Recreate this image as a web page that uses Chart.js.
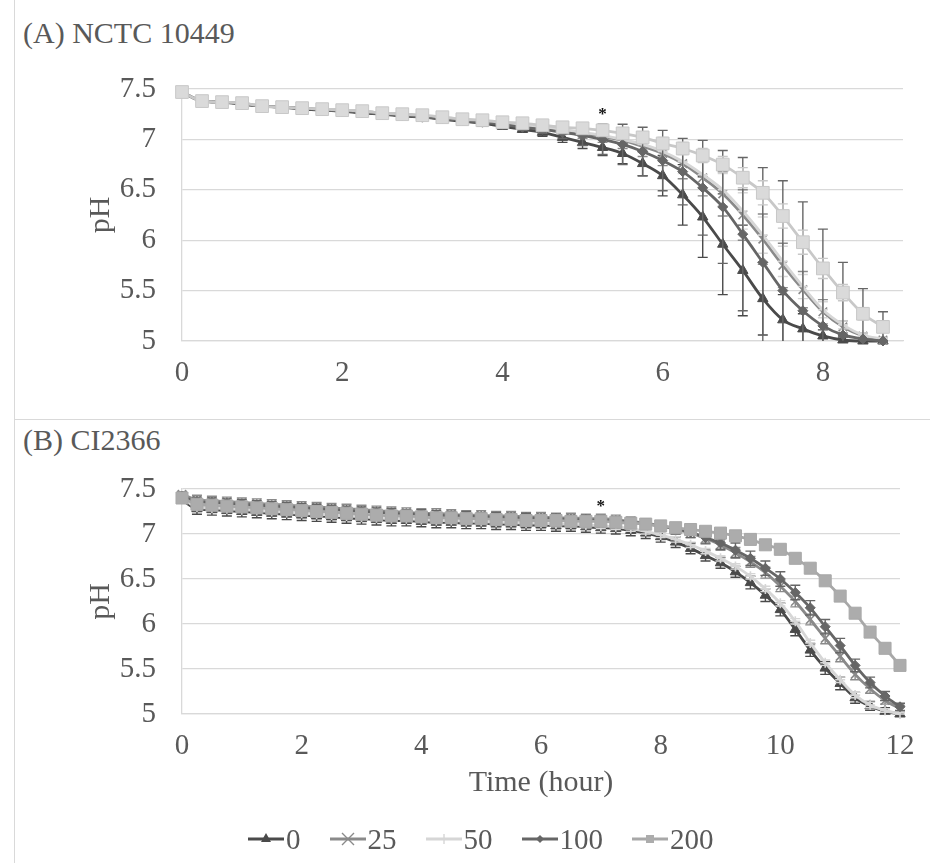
<!DOCTYPE html>
<html lang="en">
<head>
<meta charset="UTF-8">
<title>pH over time - NCTC 10449 and CI2366</title>
<script src="https://cdn.jsdelivr.net/npm/chart.js@4.4.0/dist/chart.umd.min.js"></script>
<style>
  body { margin: 0; width: 930px; height: 863px; background: #fff; position: relative; overflow: hidden;
         font-family: 'Liberation Serif', 'Times New Roman', serif; color: #595959; }
  .frame-left { position: absolute; left: 14px; top: 0; width: 1px; height: 863px; background: #d9d9d9; }
  .divider { position: absolute; left: 14px; top: 419px; width: 916px; height: 1px; background: #d9d9d9; }
  .panel-title { position: absolute; left: 23px; font-size: 30px; line-height: 30px; white-space: nowrap; }
  #wrapA { position: absolute; left: 0; top: 0; }
  #wrapB { position: absolute; left: 0; top: 420px; }
  #legend { position: absolute; left: 248px; top: 824px; display: flex; gap: 29px; font-size: 29px; line-height: 30px; }
  #legend .item { display: flex; align-items: center; gap: 2px; }
  #legend svg { display: block; }
</style>
</head>
<body>
<div class="frame-left"></div>
<div class="divider"></div>
<div class="panel-title" style="top:18px">(A) NCTC 10449</div>
<div class="panel-title" style="top:425px">(B) CI2366</div>
<div id="wrapA"><canvas id="chartA" width="930" height="419"></canvas></div>
<div id="wrapB"><canvas id="chartB" width="930" height="443"></canvas></div>
<div id="legend"></div>

<script>
// ---- data ----
const concLabels = ['0', '25', '50', '100', '200'];

const timesA = [0, 0.25, 0.5, 0.75, 1, 1.25, 1.5, 1.75, 2, 2.25, 2.5, 2.75, 3, 3.25, 3.5, 3.75, 4, 4.25,
  4.5, 4.75, 5, 5.25, 5.5, 5.75, 6, 6.25, 6.5, 6.75, 7, 7.25, 7.5, 7.75, 8, 8.25, 8.5, 8.75];

const pHA0   = [7.47, 7.38, 7.37, 7.35, 7.33, 7.32, 7.30, 7.29, 7.28, 7.26, 7.25, 7.23, 7.22, 7.20, 7.18, 7.16, 7.13, 7.10,
  7.07, 7.02, 6.97, 6.92, 6.86, 6.76, 6.64, 6.45, 6.23, 5.96, 5.70, 5.42, 5.21, 5.12, 5.05, 5.01, 5.00, 5.00];
const pHA25  = [7.47, 7.38, 7.37, 7.36, 7.33, 7.32, 7.31, 7.30, 7.29, 7.28, 7.26, 7.25, 7.23, 7.21, 7.19, 7.18, 7.16, 7.14,
  7.11, 7.09, 7.06, 7.03, 6.99, 6.93, 6.86, 6.76, 6.62, 6.46, 6.25, 6.01, 5.75, 5.51, 5.29, 5.14, 5.05, 5.01];
const pHA50  = [7.47, 7.38, 7.37, 7.36, 7.33, 7.32, 7.31, 7.30, 7.29, 7.28, 7.26, 7.25, 7.23, 7.22, 7.20, 7.18, 7.16, 7.14,
  7.12, 7.10, 7.07, 7.04, 7.00, 6.95, 6.88, 6.78, 6.65, 6.50, 6.29, 6.05, 5.79, 5.54, 5.31, 5.16, 5.06, 5.02];
const pHA100 = [7.47, 7.38, 7.37, 7.35, 7.33, 7.32, 7.31, 7.29, 7.28, 7.27, 7.25, 7.24, 7.22, 7.21, 7.19, 7.17, 7.15, 7.12,
  7.10, 7.07, 7.04, 7.00, 6.95, 6.88, 6.79, 6.68, 6.52, 6.33, 6.06, 5.78, 5.50, 5.30, 5.15, 5.06, 5.02, 5.00];
const pHA200 = [7.47, 7.38, 7.37, 7.36, 7.33, 7.32, 7.31, 7.30, 7.29, 7.28, 7.26, 7.25, 7.24, 7.22, 7.20, 7.19, 7.17, 7.16,
  7.14, 7.12, 7.11, 7.09, 7.06, 7.02, 6.96, 6.91, 6.84, 6.75, 6.62, 6.47, 6.24, 5.98, 5.72, 5.48, 5.27, 5.14];

const errA0   = [0.02, 0.04, 0.03, 0.03, 0.03, 0.03, 0.03, 0.03, 0.03, 0.03, 0.03, 0.03, 0.03, 0.03, 0.03, 0.03, 0.03, 0.03,
  0.04, 0.05, 0.06, 0.08, 0.10, 0.12, 0.20, 0.30, 0.40, 0.50, 0.45, 0.36, 0.25, 0.15, 0.06, 0.03, 0.02, 0.01];
const errA25  = [0.02, 0.04, 0.03, 0.03, 0.03, 0.03, 0.03, 0.03, 0.03, 0.03, 0.03, 0.03, 0.03, 0.03, 0.03, 0.03, 0.03, 0.03,
  0.03, 0.04, 0.05, 0.06, 0.08, 0.10, 0.12, 0.15, 0.18, 0.22, 0.25, 0.25, 0.22, 0.18, 0.12, 0.06, 0.03, 0.02];
const errA50  = [0.02, 0.03, 0.03, 0.03, 0.03, 0.03, 0.03, 0.03, 0.03, 0.03, 0.03, 0.03, 0.03, 0.03, 0.03, 0.03, 0.03, 0.03,
  0.03, 0.03, 0.04, 0.05, 0.06, 0.08, 0.10, 0.12, 0.14, 0.16, 0.18, 0.18, 0.15, 0.12, 0.08, 0.04, 0.02, 0.01];
const errA100 = [0.02, 0.04, 0.03, 0.03, 0.03, 0.03, 0.03, 0.03, 0.03, 0.03, 0.03, 0.03, 0.03, 0.03, 0.03, 0.03, 0.03, 0.03,
  0.04, 0.06, 0.10, 0.15, 0.20, 0.24, 0.30, 0.33, 0.47, 0.56, 0.76, 0.94, 1.09, 1.08, 0.96, 0.72, 0.50, 0.29];
const errA200 = [0.02, 0.03, 0.03, 0.03, 0.03, 0.03, 0.03, 0.03, 0.03, 0.03, 0.03, 0.03, 0.03, 0.03, 0.03, 0.03, 0.03, 0.03,
  0.03, 0.03, 0.04, 0.04, 0.05, 0.05, 0.06, 0.06, 0.07, 0.08, 0.10, 0.12, 0.12, 0.12, 0.10, 0.08, 0.06, 0.04];

const timesB = [0, 0.25, 0.5, 0.75, 1, 1.25, 1.5, 1.75, 2, 2.25, 2.5, 2.75, 3, 3.25, 3.5, 3.75, 4, 4.25, 4.5, 4.75,
  5, 5.25, 5.5, 5.75, 6, 6.25, 6.5, 6.75, 7, 7.25, 7.5, 7.75, 8, 8.25, 8.5, 8.75, 9, 9.25, 9.5, 9.75,
  10, 10.25, 10.5, 10.75, 11, 11.25, 11.5, 11.75, 12];

const pHB0   = [7.38, 7.28, 7.27, 7.26, 7.25, 7.24, 7.23, 7.22, 7.21, 7.20, 7.19, 7.18, 7.17, 7.16, 7.15, 7.15, 7.14, 7.13, 7.13, 7.12,
  7.12, 7.11, 7.11, 7.10, 7.10, 7.09, 7.09, 7.08, 7.07, 7.06, 7.04, 7.01, 6.97, 6.91, 6.84, 6.76, 6.68, 6.58, 6.46, 6.32,
  6.16, 5.94, 5.71, 5.51, 5.34, 5.18, 5.09, 5.03, 5.00];
const pHB25  = [7.44, 7.38, 7.37, 7.36, 7.35, 7.34, 7.33, 7.32, 7.31, 7.30, 7.29, 7.28, 7.27, 7.26, 7.25, 7.24, 7.23, 7.23, 7.22, 7.21,
  7.21, 7.20, 7.20, 7.19, 7.19, 7.18, 7.18, 7.17, 7.17, 7.16, 7.14, 7.12, 7.09, 7.05, 7.01, 6.95, 6.88, 6.79, 6.69, 6.57,
  6.42, 6.25, 6.05, 5.84, 5.64, 5.44, 5.28, 5.15, 5.06];
const pHB50  = [7.40, 7.30, 7.29, 7.28, 7.27, 7.26, 7.25, 7.24, 7.23, 7.22, 7.21, 7.20, 7.19, 7.18, 7.17, 7.17, 7.16, 7.15, 7.15, 7.14,
  7.14, 7.13, 7.13, 7.12, 7.12, 7.11, 7.11, 7.10, 7.09, 7.08, 7.06, 7.03, 6.99, 6.94, 6.88, 6.81, 6.73, 6.64, 6.53, 6.39,
  6.23, 6.03, 5.79, 5.57, 5.38, 5.21, 5.10, 5.04, 5.00];
const pHB100 = [7.42, 7.36, 7.35, 7.34, 7.33, 7.32, 7.31, 7.30, 7.29, 7.28, 7.27, 7.26, 7.25, 7.24, 7.23, 7.22, 7.22, 7.21, 7.20, 7.20,
  7.19, 7.19, 7.18, 7.18, 7.17, 7.17, 7.16, 7.16, 7.15, 7.14, 7.13, 7.11, 7.09, 7.06, 7.02, 6.96, 6.90, 6.82, 6.73, 6.62,
  6.50, 6.35, 6.18, 5.97, 5.76, 5.54, 5.35, 5.20, 5.08];
const pHB200 = [7.40, 7.33, 7.32, 7.31, 7.30, 7.29, 7.28, 7.27, 7.26, 7.25, 7.24, 7.23, 7.22, 7.21, 7.20, 7.20, 7.19, 7.18, 7.18, 7.17,
  7.17, 7.16, 7.16, 7.15, 7.15, 7.15, 7.14, 7.14, 7.14, 7.13, 7.12, 7.11, 7.09, 7.07, 7.05, 7.03, 7.01, 6.98, 6.94, 6.88,
  6.83, 6.73, 6.62, 6.48, 6.31, 6.12, 5.91, 5.73, 5.54];

const errB0   = [0.03, 0.06, 0.06, 0.06, 0.06, 0.06, 0.06, 0.06, 0.06, 0.06, 0.06, 0.06, 0.06, 0.06, 0.06, 0.06, 0.06, 0.06, 0.06, 0.06,
  0.06, 0.06, 0.06, 0.06, 0.06, 0.06, 0.06, 0.06, 0.06, 0.06, 0.06, 0.06, 0.06, 0.06, 0.06, 0.06, 0.06, 0.06, 0.07, 0.07,
  0.07, 0.07, 0.07, 0.07, 0.07, 0.06, 0.05, 0.04, 0.03];
const errB25  = [0.03, 0.05, 0.05, 0.05, 0.05, 0.05, 0.05, 0.05, 0.05, 0.05, 0.05, 0.05, 0.05, 0.05, 0.05, 0.05, 0.05, 0.05, 0.05, 0.05,
  0.05, 0.05, 0.05, 0.05, 0.05, 0.05, 0.05, 0.05, 0.05, 0.05, 0.05, 0.05, 0.05, 0.05, 0.05, 0.05, 0.06, 0.06, 0.06, 0.06,
  0.06, 0.06, 0.06, 0.06, 0.06, 0.06, 0.05, 0.04, 0.03];
const errB50  = [0.02, 0.03, 0.03, 0.03, 0.03, 0.03, 0.03, 0.03, 0.03, 0.03, 0.03, 0.03, 0.03, 0.03, 0.03, 0.03, 0.03, 0.03, 0.03, 0.03,
  0.03, 0.03, 0.03, 0.03, 0.03, 0.03, 0.03, 0.03, 0.03, 0.03, 0.03, 0.03, 0.03, 0.03, 0.03, 0.03, 0.03, 0.03, 0.03, 0.03,
  0.03, 0.03, 0.03, 0.03, 0.03, 0.03, 0.03, 0.02, 0.02];
const errB100 = [0.03, 0.05, 0.05, 0.05, 0.05, 0.05, 0.05, 0.05, 0.05, 0.05, 0.05, 0.05, 0.05, 0.05, 0.05, 0.05, 0.05, 0.05, 0.05, 0.05,
  0.05, 0.05, 0.05, 0.05, 0.05, 0.05, 0.05, 0.05, 0.05, 0.05, 0.05, 0.05, 0.05, 0.06, 0.06, 0.07, 0.07, 0.08, 0.08, 0.08,
  0.08, 0.08, 0.08, 0.08, 0.08, 0.07, 0.06, 0.05, 0.04];
const errB200 = [0.02, 0.03, 0.03, 0.03, 0.03, 0.03, 0.03, 0.03, 0.03, 0.03, 0.03, 0.03, 0.03, 0.03, 0.03, 0.03, 0.03, 0.03, 0.03, 0.03,
  0.03, 0.03, 0.03, 0.03, 0.03, 0.03, 0.03, 0.03, 0.03, 0.03, 0.03, 0.03, 0.03, 0.03, 0.03, 0.03, 0.03, 0.03, 0.03, 0.03,
  0.03, 0.03, 0.03, 0.03, 0.03, 0.03, 0.03, 0.03, 0.03];

// significance marks (time, pH)
const sigA = [{t: 5.25, v: 7.30}];
const sigB = [{t: 7, v: 7.37}];

const yTicks = [5, 5.5, 6, 6.5, 7, 7.5];

// ---- styles ----
const seriesStyle = {
  '0':   {color: '#4a4a4a', fill: '#4a4a4a', marker: 'triangle', radius: 6},
  '25':  {color: '#8a8a8a', fill: '#8a8a8a', marker: 'crossRot', radius: 6},
  '50':  {color: '#d6d6d6', fill: '#d6d6d6', marker: 'cross',    radius: 5},
  '100': {color: '#666666', fill: '#666666', marker: 'rectRot',  radius: 5},
  '200': {color: '#a8a8a8', fill: '#acacac', marker: 'rect',     radius: 8.5}
};
const square200A = {color: '#c8c8c8', fill: '#dadada'};

Chart.defaults.font.family = "'Liberation Serif', 'Times New Roman', serif";
Chart.defaults.color = '#595959';

const errorBars = {
  id: 'errorBars',
  beforeDatasetDraw(chart, args) {
    const ds = chart.data.datasets[args.index];
    if (!ds.errors) return;
    const {ctx, chartArea, scales: {x, y}} = chart;
    ctx.save();
    ctx.beginPath();
    ctx.rect(chartArea.left - 10, chartArea.top, chartArea.right - chartArea.left + 20, chartArea.bottom - chartArea.top);
    ctx.clip();
    ctx.strokeStyle = ds.errorColor || ds.borderColor;
    ctx.lineWidth = 1.4;
    ds.data.forEach((p, i) => {
      const e = ds.errors[i];
      const px = x.getPixelForValue(p.x);
      const top = y.getPixelForValue(p.y + e);
      const bot = y.getPixelForValue(p.y - e);
      ctx.beginPath();
      ctx.moveTo(px, top); ctx.lineTo(px, bot);
      ctx.moveTo(px - 5, top); ctx.lineTo(px + 5, top);
      ctx.moveTo(px - 5, bot); ctx.lineTo(px + 5, bot);
      ctx.stroke();
    });
    ctx.restore();
  }
};

const sigStar = {
  id: 'sigStar',
  afterDatasetsDraw(chart, args, opts) {
    if (!opts.points) return;
    const {ctx, scales: {x, y}} = chart;
    ctx.save();
    ctx.fillStyle = '#111';
    ctx.font = "bold 17px 'Liberation Serif'";
    ctx.textAlign = 'center';
    ctx.textBaseline = 'alphabetic';
    opts.points.forEach(p => ctx.fillText('*', x.getPixelForValue(p.t), y.getPixelForValue(p.v) + 10));
    ctx.restore();
  }
};

function makeChart(id, times, values, errors, o) {
  const datasets = concLabels.map((lab, i) => {
    let st = seriesStyle[lab];
    if (lab === '200' && o.lightSquares) st = Object.assign({}, st, square200A, {radius: 9});
    return {
      label: lab,
      data: times.map((t, k) => ({x: t, y: values[i][k]})),
      errors: errors[i],
      borderColor: st.color,
      backgroundColor: st.fill,
      pointBackgroundColor: st.fill,
      pointBorderColor: st.color,
      pointStyle: st.marker,
      pointRadius: st.radius,
      pointBorderWidth: st.marker === 'crossRot' || st.marker === 'cross' ? 1.6 : 1,
      borderWidth: 2.8,
      cubicInterpolationMode: 'monotone',
      clip: false,
      order: concLabels.length - i
    };
  });

  return new Chart(document.getElementById(id), {
    type: 'line',
    data: {datasets},
    plugins: [errorBars, sigStar],
    options: {
      responsive: false,
      animation: false,
      layout: {padding: {left: 24, top: o.top, right: o.right, bottom: 0}},
      scales: {
        x: {
          type: 'linear', min: 0, max: o.xMax,
          ticks: {stepSize: 2, includeBounds: false, padding: 15, font: {size: 29}, color: '#595959', maxRotation: 0},
          grid: {display: false, drawTicks: false},
          border: {display: true, color: '#d9d9d9', width: 1.3},
          title: {display: !!o.xTitle, text: o.xTitle || '', font: {size: 30}, color: '#595959', padding: {top: 0, bottom: 62}},
          afterFit: s => { s.height = o.xHeight; }
        },
        y: {
          min: 5, max: 7.5,
          afterBuildTicks: s => { s.ticks = yTicks.map(v => ({value: v})); },
          ticks: {padding: 26, font: {size: 29}, color: '#595959', callback: v => String(v)},
          grid: {color: '#d9d9d9', lineWidth: 1.3, drawTicks: false},
          border: {display: true, color: '#d9d9d9', width: 1.3},
          title: {display: true, text: 'pH', font: {size: 30}, color: '#595959', padding: {top: 59, bottom: 0}},
          afterFit: s => { s.width = 158; }
        }
      },
      plugins: {
        legend: {display: false},
        tooltip: {enabled: false},
        sigStar: {points: o.sig}
      }
    }
  });
}

makeChart('chartA', timesA, [pHA0, pHA25, pHA50, pHA100, pHA200], [errA0, errA25, errA50, errA100, errA200],
  {top: 89, right: 27, xMax: 9, xHeight: 78, sig: sigA, lightSquares: true});
makeChart('chartB', timesB, [pHB0, pHB25, pHB50, pHB100, pHB200], [errB0, errB25, errB50, errB100, errB200],
  {top: 69, right: 30, xMax: 12, xHeight: 149, xTitle: 'Time (hour)', sig: sigB});

// legend (html)
function markerSvg(lab) {
  const st = seriesStyle[lab];
  const c = st.color;
  let m = '';
  if (st.marker === 'triangle') m = `<polygon points="18,2 23,11 13,11" fill="${c}"/>`;
  else if (st.marker === 'crossRot') m = `<path d="M12,2 L24,14 M24,2 L12,14" stroke="${c}" stroke-width="1.4"/>`;
  else if (st.marker === 'cross') m = `<path d="M18,3 L18,13" stroke="${c}" stroke-width="1.4"/>`;
  else if (st.marker === 'rectRot') m = `<polygon points="18,4 22,8 18,12 14,8" fill="${c}"/>`;
  else if (st.marker === 'rect') m = `<rect x="14" y="4" width="8" height="8" fill="${st.fill}"/>`;
  return `<svg width="36" height="16" viewBox="0 0 36 16"><line x1="0" y1="8" x2="36" y2="8" stroke="${c}" stroke-width="3.2"/>${m}</svg>`;
}
document.getElementById('legend').innerHTML = concLabels
  .map(lab => `<div class="item">${markerSvg(lab)}<span>${lab}</span></div>`).join('');
</script>
</body>
</html>
